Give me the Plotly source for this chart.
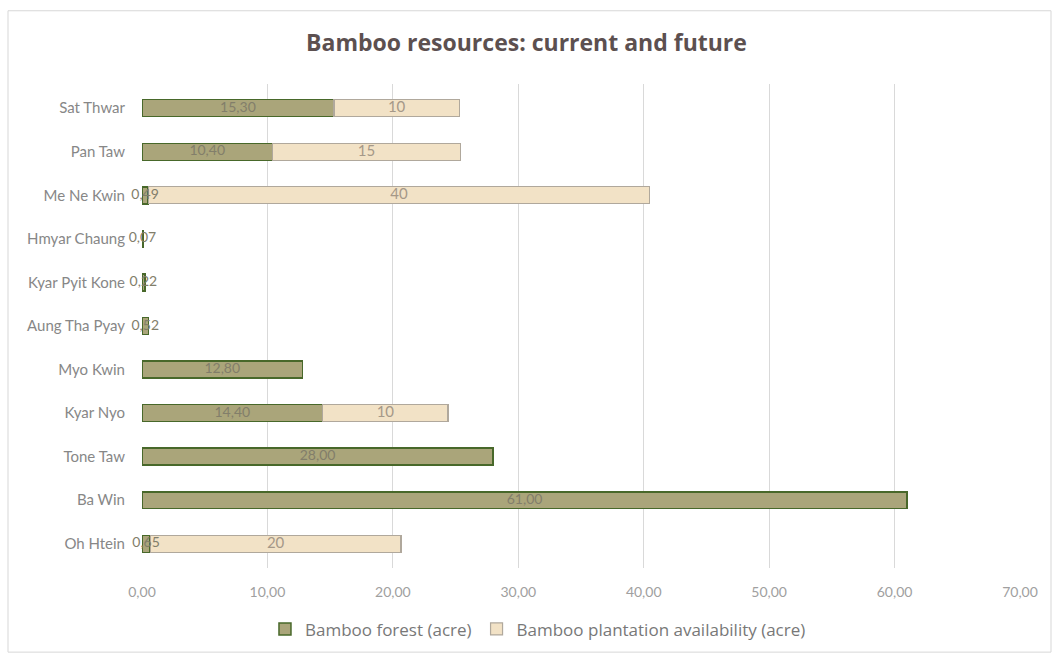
import plotly.graph_objects as go

# Villages listed bottom-to-top (Plotly draws the first category at the bottom)
villages = ["Oh Htein", "Ba Win", "Tone Taw", "Kyar Nyo", "Myo Kwin", "Aung Tha Pyay",
            "Kyar Pyit Kone", "Hmyar Chaung", "Me Ne Kwin", "Pan Taw", "Sat Thwar"]
forest_acre = [0.65, 61.00, 28.00, 14.40, 12.80, 0.52, 0.22, 0.07, 0.49, 10.40, 15.30]
plantation_acre = [20, None, None, 10, None, None, None, None, 40, 15, 10]
x_ticks = [0, 10, 20, 30, 40, 50, 60, 70]

W, H = 1053, 659
L, R, T, B = 142, 33, 84, 86
PW, PH = W - L - R, H - T - B

FONT = "Lato, Open Sans, sans-serif"
WIDE = "Open Sans, sans-serif"
FOREST_FILL = "rgb(170,165,122)"
FOREST_LINE = "rgb(72,104,42)"
PLANT_FILL = "rgb(242,226,198)"
PLANT_LINE = "rgb(176,168,156)"

fig = go.Figure()
fig.add_trace(go.Bar(
    y=villages, x=forest_acre, orientation="h", name="Bamboo forest (acre)",
    marker=dict(color=FOREST_FILL, line=dict(color=FOREST_LINE, width=1.5)),
    hoverinfo="x+y",
))
fig.add_trace(go.Bar(
    y=villages, x=plantation_acre, orientation="h", name="Bamboo plantation availability (acre)",
    marker=dict(color=PLANT_FILL, line=dict(color=PLANT_LINE, width=1.2)),
    hoverinfo="x+y",
))

# Value labels centred on each segment
forest_mid = [v / 2 for v in forest_acre]
forest_txt = [f"{v:.2f}".replace(".", ",") for v in forest_acre]
fig.add_trace(go.Scatter(
    y=villages, x=forest_mid, mode="text", text=forest_txt, showlegend=False,
    cliponaxis=False,
    textfont=dict(family=FONT, size=14, color="rgb(130,126,106)"), hoverinfo="skip",
))
plant_y = [c for c, p in zip(villages, plantation_acre) if p is not None]
plant_mid = [f + p / 2 for f, p in zip(forest_acre, plantation_acre) if p is not None]
plant_txt = [str(p) for p in plantation_acre if p is not None]
fig.add_trace(go.Scatter(
    y=plant_y, x=plant_mid, mode="text", text=plant_txt, showlegend=False,
    cliponaxis=False,
    textfont=dict(family=FONT, size=15, color="rgb(165,152,136)"), hoverinfo="skip",
))

def px(x):
    return (x - L) / PW

def py(y):
    return (H - B - y) / PH

fig.update_layout(
    width=W, height=H,
    margin=dict(l=L, r=R, t=T, b=B),
    paper_bgcolor="white", plot_bgcolor="white",
    barmode="stack", bargap=0.61,
    separators=",.",
    title=dict(text="<b>Bamboo resources: current and future</b>", x=0.5, xanchor="center",
               y=1 - 43 / H, yanchor="middle",
               font=dict(family=WIDE, size=23, color="rgb(92,80,80)")),
    xaxis=dict(range=[0, 70], tickvals=x_ticks, tickformat=".2f",
               showgrid=True, gridcolor="rgb(217,217,217)", gridwidth=1,
               zeroline=False, showline=False, ticks="", ticklabelstandoff=14,
               tickfont=dict(family=FONT, size=14, color="rgb(160,160,160)")),
    yaxis=dict(showgrid=False, showline=False, ticks="", ticklabelstandoff=16,
               tickfont=dict(family=FONT, size=15, color="rgb(135,135,135)")),
    legend=dict(orientation="h", x=0.451, xanchor="center", y=py(635), yanchor="middle",
                font=dict(family=WIDE, size=17, color="rgb(120,120,120)"),
                traceorder="normal", itemwidth=30),
    shapes=[dict(type="rect", xref="paper", yref="paper",
                 x0=px(8), x1=px(1051), y0=py(658), y1=py(10),
                 line=dict(color="rgb(215,215,215)", width=1), layer="below")],
)

fig.write_html("out.html")
